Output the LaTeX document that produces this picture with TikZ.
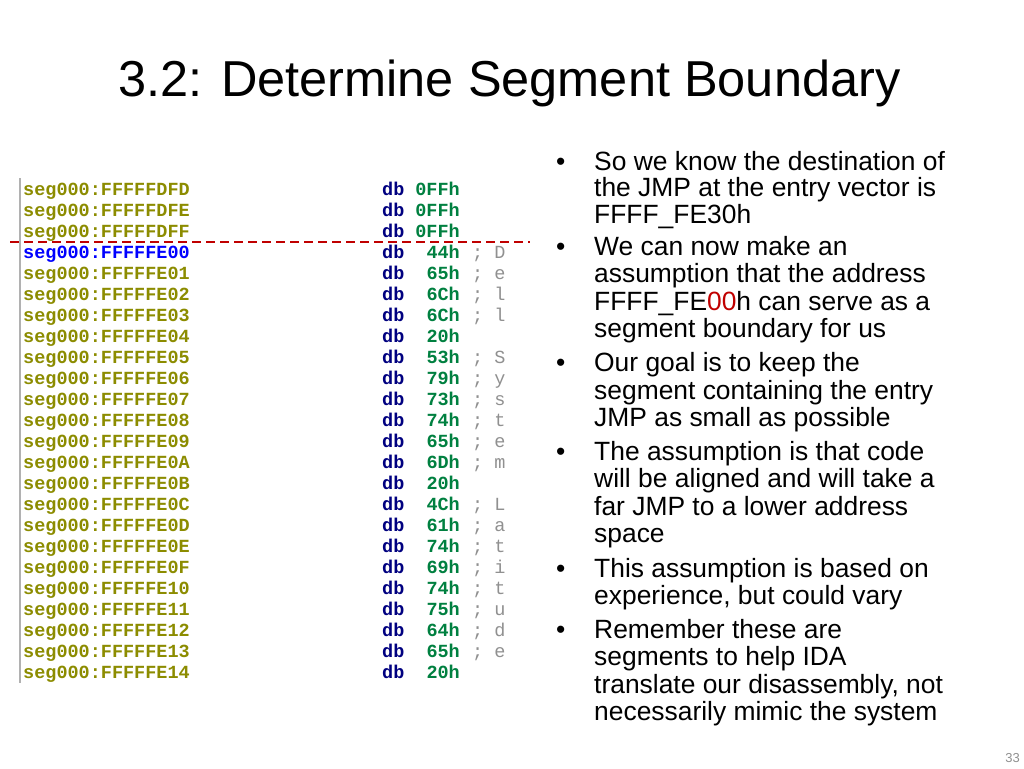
\documentclass[tikz,border=0pt]{standalone}
\usepackage{fontspec}
\setmainfont{Liberation Sans}
\newfontfamily\codefont{Liberation Mono}
\definecolor{olivec}{HTML}{8C8C00}
\definecolor{bluec}{HTML}{0000FF}
\definecolor{navyc}{HTML}{000080}
\definecolor{greenc}{HTML}{008040}
\definecolor{greyc}{HTML}{909090}
\definecolor{darkred}{HTML}{C00000}
\begin{document}
\begin{tikzpicture}[x=1pt,y=-1pt,
  code/.style={font=\codefont\bfseries\fontsize{18.5}{20}\selectfont,inner sep=0,anchor=base west},
  codeR/.style={code,anchor=base east},
  txt/.style={font=\fontsize{26.4}{28}\selectfont,inner sep=0,anchor=base west}]
\useasboundingbox[fill=white] (0,0) rectangle (1024,768);
\node[inner sep=0,anchor=base west,font=\fontsize{50.5}{52}\selectfont] (title) at (118,96) {3.2: Determine Segment Boundary};
\draw[greyc!70,line width=1.5pt] (20,178) -- (20,683);
\foreach \a/\v/\c [count=\i from 0] in {FFFFFDFD/0FFh/,FFFFFDFE/0FFh/,FFFFFDFF/0FFh/,FFFFFE00/44h/D,FFFFFE01/65h/e,FFFFFE02/6Ch/l,FFFFFE03/6Ch/l,FFFFFE04/20h/,FFFFFE05/53h/S,FFFFFE06/79h/y,FFFFFE07/73h/s,FFFFFE08/74h/t,FFFFFE09/65h/e,FFFFFE0A/6Dh/m,FFFFFE0B/20h/,FFFFFE0C/4Ch/L,FFFFFE0D/61h/a,FFFFFE0E/74h/t,FFFFFE0F/69h/i,FFFFFE10/74h/t,FFFFFE11/75h/u,FFFFFE12/64h/d,FFFFFE13/65h/e,FFFFFE14/20h/}{
  \pgfmathsetmacro\yy{195+21*\i}
  \ifnum\i=3 \node[code,text=bluec] (a\i) at (23,\yy) {seg000:\a};
  \else \node[code,text=olivec] (a\i) at (23,\yy) {seg000:\a};\fi
  \node[code,text=navyc] (d\i) at (382,\yy) {db};
  \node[codeR,text=greenc] (v\i) at (460,\yy) {\v};
  \ifx\c\empty\else
  \node[code,text=greyc,font=\codefont\fontsize{18.5}{20}\selectfont] (c\i) at (472,\yy) {; \c};\fi
}
\coordinate (l1) at (10,242); \coordinate (l2) at (530,242);
\draw[darkred,line width=2pt,dash pattern=on 9pt off 5pt] (l1) -- (l2);
\foreach \y/\t in {170/So we know the destination of,196/the JMP at the entry vector is,223/FFFF\_FE30h,255/We can now make an,282/assumption that the address,310/FFFF\_FE{\color{darkred}00}h can serve as a,337/segment boundary for us,371/Our goal is to keep the,399/segment containing the entry,426/JMP as small as possible,460/The assumption is that code,487/will be aligned and will take a,515/far JMP to a lower address,542/space,577/This assumption is based on,604/experience{,} but could vary,638/Remember these are,665/segments to help IDA,693/translate our disassembly{,} not,720/necessarily mimic the system}
  \node[txt] at (594,\y) {\t};
\foreach \y in {170,255,371,460,577,638}
  \node[txt] at (556,\y) {•};
\node[inner sep=0,anchor=base east,text=greyc,font=\fontsize{13}{14}\selectfont] (pg) at (1020,762) {33};
\end{tikzpicture}
\end{document}
